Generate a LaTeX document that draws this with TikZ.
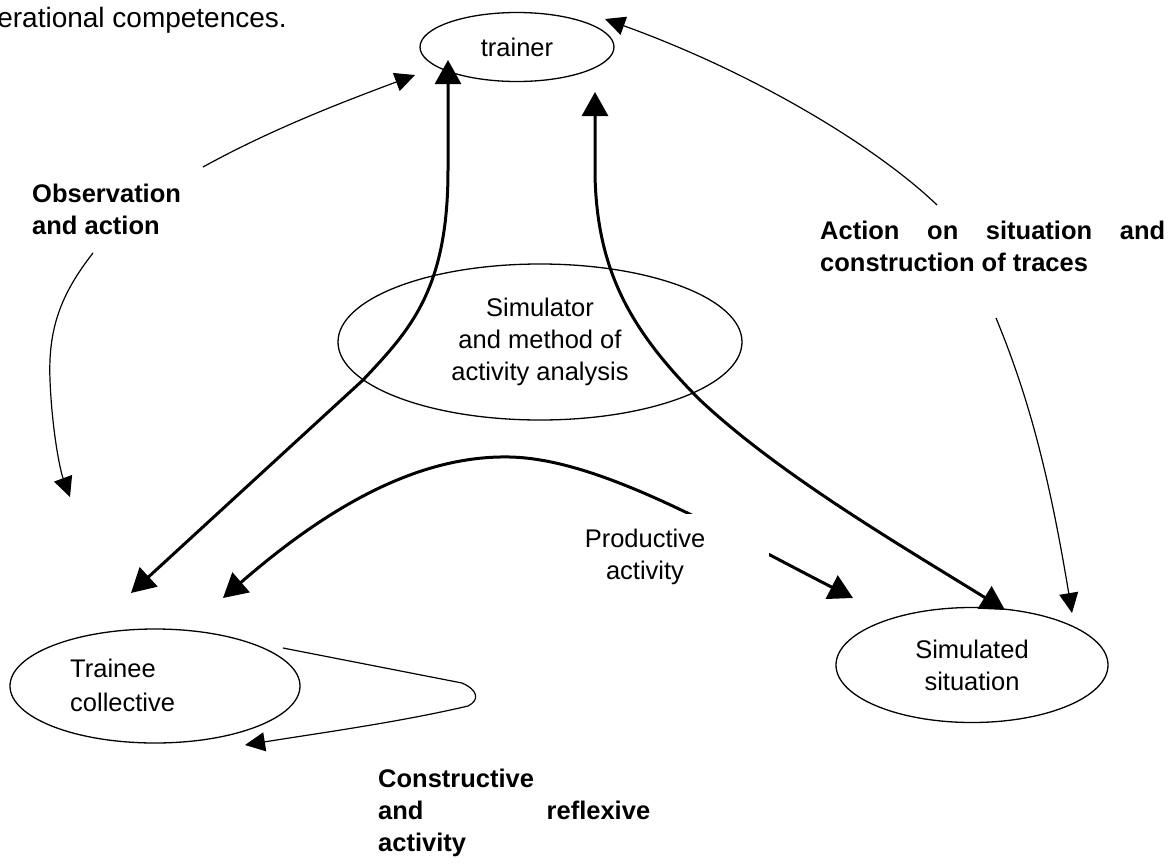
\documentclass[tikz,border=0pt]{standalone}
\usepackage{fontspec}
\setmainfont{Liberation Sans}
\usetikzlibrary{arrows.meta,shapes.geometric}

\begin{document}
\begin{tikzpicture}[x=1pt,y=-1pt,
  every node/.style={inner sep=0pt, font=\fontsize{25.5}{32}\selectfont},
  oval/.style={draw, ellipse, line width=1.3pt, inner sep=0pt},
  slimarrow/.style={line width=1.2pt, -{Triangle[length=20pt,width=19pt]}},
  boldarrow/.style={line width=3pt, {Triangle[length=24pt,width=26pt]}-{Triangle[length=24pt,width=26pt]}},
  lbl/.style={font=\fontsize{25.5}{32}\selectfont\bfseries, align=left, anchor=west}
]
\useasboundingbox (0,0) rectangle (1176,863);

% closing words of the preceding paragraph
\node[anchor=base east, font=\fontsize{28}{34}\selectfont] (intro) at (287,27) {erational competences.};

% the four poles
\node[oval, minimum width=194pt, minimum height=69pt] (trainer) at (517,47) {trainer};
\node[oval, minimum width=404pt, minimum height=156pt, align=center] (sim) at (540,342)
  {Simulator\\and method of\\activity analysis};
\node[oval, minimum width=290pt, minimum height=114pt] (trainee) at (155,686) {};
\node[anchor=west, align=left, font=\fontsize{25.5}{34}\selectfont] (traineetext) at (70,685)
  {Trainee\\collective};
\node[oval, minimum width=272pt, minimum height=115pt, align=center] (situation) at (972,665)
  {Simulated\\situation};

% free ends of the connectors
\coordinate (tA) at (448,60);
\coordinate (tB) at (131,593);
\coordinate (tC) at (595,92);
\coordinate (tD) at (1005,610);
\coordinate (pL) at (223,598);
\coordinate (pTop) at (510,457);
\coordinate (pR) at (853,598);
\coordinate (o1s) at (203,167);
\coordinate (o1e) at (415,75);
\coordinate (o2s) at (93,253);
\coordinate (o2m) at (50,380);
\coordinate (o2e) at (70,497);
\coordinate (a1s) at (937,205);
\coordinate (a1e) at (605,19);
\coordinate (a2s) at (996,318);
\coordinate (a2e) at (1072,613);
\coordinate (l1) at (283,648);
\coordinate (l2) at (462,683);
\coordinate (l3) at (468,706);
\coordinate (l4) at (245,745);

% heavy two-way links
\draw[boldarrow] (tB) -- (363,380) .. controls (410,330) and (448,290) .. (448,170) -- (tA);
\draw[boldarrow] (tC) -- (595,175) .. controls (597,270) and (630,330) .. (700,400)
  .. controls (780,475) and (900,545) .. (tD);
\draw[boldarrow] (pL) .. controls (330,505) and (420,455) .. (pTop)
  .. controls (600,459) and (720,530) .. (pR);
\node[fill=white, minimum width=248pt, minimum height=87pt, align=center] (prod) at (645,557)
  {Productive\\activity};

% light one-way links
\draw[slimarrow] (o1s) .. controls (270,130) and (340,103) .. (o1e);
\draw[slimarrow] (o2s) .. controls (60,295) and (48,330) .. (o2m)
  .. controls (52,430) and (60,470) .. (o2e);
\draw[slimarrow] (a1s) .. controls (880,150) and (760,75) .. (a1e);
\draw[slimarrow] (a2s) .. controls (1030,400) and (1050,480) .. (a2e);
\draw[slimarrow] (l1) -- (l2) .. controls (478,690) and (480,700) .. (l3)
  .. controls (400,722) and (320,733) .. (l4);

% bold captions
\node[lbl] (obs) at (32,209) {Observation\\and action};
\node[lbl] (act) at (820,246) {\makebox[345pt][s]{Action on situation and}\\construction of traces};
\node[lbl] (cons) at (378,813) {Constructive\\\makebox[272pt][s]{and reflexive}\\activity};
\end{tikzpicture}
\end{document}
